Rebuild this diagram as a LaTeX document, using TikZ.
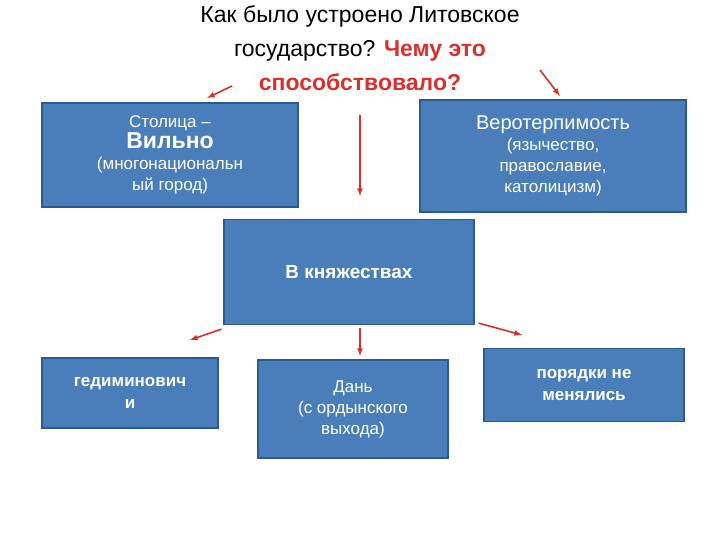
\documentclass[tikz,border=0pt]{standalone}
\usepackage{fontspec}
\setmainfont{Liberation Sans}
\usetikzlibrary{arrows}
\tikzset{>=latex}
\definecolor{boxblue}{HTML}{4A7EBB}
\definecolor{boxline}{HTML}{2C5A8F}
\definecolor{arrred}{HTML}{D9302B}
\begin{document}
\begin{tikzpicture}[x=1pt,y=-1pt]
  \tikzstyle{infobox}=[fill=boxblue,draw=boxline,line width=1.2pt,text=white,align=center,inner sep=0pt,font=\fontsize{17}{21}\selectfont]
  \tikzstyle{redarrow}=[arrred,line width=1.6pt,->]
  \useasboundingbox[fill=white] (0,0) rectangle (720,540);
  %%% title
  \node (title) at (360,48) [align=center,font=\fontsize{23}{34}\selectfont] {Как было устроено Литовское\\государство? \textcolor{arrred}{\textbf{Чему это}}\\\textcolor{arrred}{\textbf{способствовало?}}};
  %%% boxes
  \node (capital) at (170,155) [infobox,minimum width=256pt,minimum height=104pt] {Столица –\\{\fontsize{23}{28}\selectfont\textbf{Вильно}}\\(многонациональн\\ый город)};
  \node (tolerance) at (553,156) [infobox,minimum width=266pt,minimum height=112pt] {{\fontsize{20}{24}\selectfont Веротерпимость}\\(язычество,\\православие,\\католицизм)};
  \node (center) at (349,272) [infobox,minimum width=250pt,minimum height=105pt,font=\fontsize{19}{23}\selectfont\bfseries] {В княжествах};
  \node (gedim) at (130,393) [infobox,minimum width=176pt,minimum height=70pt,font=\fontsize{17}{22}\selectfont\bfseries] {гедиминович\\и};
  \node (tribute) at (353,409) [infobox,minimum width=190pt,minimum height=98pt] {Дань\\(с ордынского\\выхода)};
  \node (order) at (584,385) [infobox,minimum width=200pt,minimum height=73pt,font=\fontsize{17}{22}\selectfont\bfseries] {порядки не\\менялись};
  %%% arrows
  \coordinate (tl) at (232,86);
  \coordinate (tr) at (540,70);
  \coordinate (tc) at (360,115);
  \draw[redarrow] (tl) -- (207,98);
  \draw[redarrow] (tr) -- (560,96);
  \draw[redarrow] (tc) -- (360,196);
  \draw[redarrow] (center.south west) ++(-2,4) -- (190,340);
  \draw[redarrow] (360,328) -- (360,356);
  \draw[redarrow] (center.south east) ++(4,-2) -- (522,335);
\end{tikzpicture}
\end{document}
